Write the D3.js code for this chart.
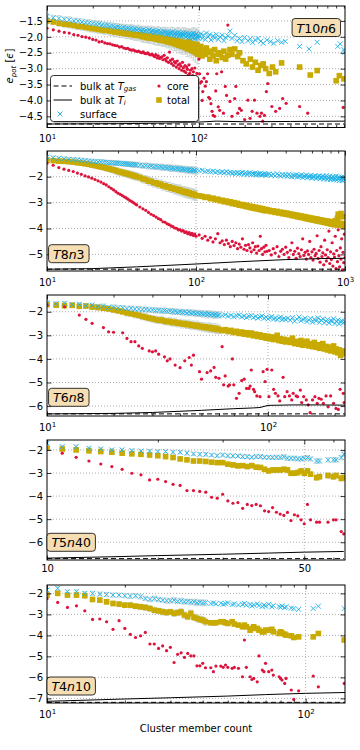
<!DOCTYPE html>
<html><head><meta charset="utf-8">
<script src="https://cdn.jsdelivr.net/npm/d3@7"></script>
<style>body{margin:0;background:#fff}svg{display:block}text{font-family:"DejaVu Sans",sans-serif}</style>
</head><body><svg id="c" width="360" height="750"></svg>
<script>
// ---------------- DATA ----------------
// Panel T10n6
const T10n6_sizes = d3.range(10, 100);
const T10n6_surface = [-1.36,-1.40,-1.42,-1.45,-1.46,-1.50,-1.50,-1.53,-1.55,-1.56,-1.58,-1.60,-1.59,-1.63,-1.64,-1.63,-1.67,-1.66,-1.69,-1.68,-1.70,-1.72,-1.70,-1.74,-1.73,-1.75,-1.72,-1.77,-1.76,-1.78,-1.75,-1.79,-1.80,-1.77,-1.82,-1.80,-1.83,-1.78,-1.84,-1.82,-1.80,-1.86,-1.83,-1.85,-1.81,-1.88,-1.84,-1.87,-1.90,-1.83,-1.86,-1.92,-1.85,-1.89,-1.94,-1.87,-1.91,-1.84,-1.95,-1.90,-1.88,-1.96,-1.90,-1.86,-1.97,-1.92,-1.89,-1.99,-1.93,-1.87,-1.95,-1.91,-2.00,-1.88,-1.97,-1.93,-2.02,-1.90,-1.96,-1.99,-1.92,-2.03,-1.89,-1.98,-2.05,-1.94,-1.90,-2.01,-1.96,-2.04];
const T10n6_total = [-1.50,-1.53,-1.57,-1.60,-1.62,-1.64,-1.67,-1.68,-1.70,-1.72,-1.74,-1.75,-1.77,-1.78,-1.80,-1.79,-1.82,-1.83,-1.85,-1.84,-1.87,-1.88,-1.86,-1.90,-1.91,-1.89,-1.93,-1.92,-1.95,-1.94,-1.96,-1.93,-1.98,-2.00,-1.96,-2.02,-1.99,-2.04,-2.01,-1.97,-2.03,-2.06,-2.00,-2.08,-2.04,-2.10,-2.02,-2.07,-2.12,-2.05,-2.09,-2.14,-2.06,-2.16,-2.11,-2.08,-2.19,-2.13,-2.10,-2.21,-2.15,-2.24,-2.12,-2.18,-2.27,-2.14,-2.22,-2.30,-2.17,-2.25,-2.20,-2.33,-2.19,-2.28,-2.38,-2.23,-2.15,-2.35,-2.26,-2.42,-2.30,-2.22,-2.45,-2.33,-2.27,-2.50,-2.36,-2.24,-2.55,-2.32];
const T10n6_core = [-1.73,-1.78,-1.82,-1.86,-1.88,-1.93,-1.95,-1.99,-2.01,-2.04,-2.08,-2.10,-2.16,-2.15,-2.19,-2.21,-2.22,-2.25,-2.27,-2.28,-2.32,-2.31,-2.35,-2.37,-2.36,-2.40,-2.42,-2.41,-2.44,-2.46,-2.45,-2.48,-2.50,-2.47,-2.52,-2.53,-2.50,-2.55,-2.57,-2.54,-2.58,-2.62,-2.56,-2.66,-2.60,-2.68,-2.65,-2.63,-2.72,-2.58,-2.70,-2.76,-2.66,-2.80,-2.48,-2.74,-2.84,-2.70,-2.90,-2.78,-2.82,-2.95,-2.76,-2.88,-3.00,-2.85,-2.92,-3.05,-2.80,-2.97,-3.08,-2.90,-3.12,-2.95,-3.02,-3.20,-2.88,-3.15,-3.05,-3.30,-3.00,-3.22,-3.10,-3.38,-2.98,-3.25,-3.45,-3.15,-3.35,-3.60];
const T10n6_surfErr = [.08,.08,.09,.08,.09,.09,.08,.09,.09,.10,.09,.10,.09,.10,.10,.09,.10,.10,.11,.10,.10,.11,.10,.11,.11,.10,.11,.12,.11,.11,.12,.11,.12,.11,.12,.12,.13,.12,.12,.13,.12,.13,.12,.13,.13,.12,.13,.14,.13,.13,.14,.13,.14,.13,.14,.15,.13,.14,.15,.14,.15,.14,.15,.16,.14,.15,.16,.15,.14,.16,.15,.16,.17,.15,.16,.17,.16,.15,.17,.16,.17,.16,.18,.17,.16,.18,.17,.16,.18,.17];
const T10n6_totErr = [.09,.09,.10,.10,.10,.11,.10,.11,.11,.12,.11,.12,.12,.12,.13,.12,.13,.13,.14,.13,.14,.14,.13,.15,.14,.15,.15,.14,.16,.15,.16,.15,.16,.17,.16,.16,.17,.16,.18,.17,.17,.18,.17,.18,.19,.17,.18,.19,.18,.20,.19,.18,.20,.19,.21,.19,.20,.21,.20,.22,.21,.20,.22,.21,.23,.21,.22,.24,.22,.23,.24,.22,.25,.23,.24,.26,.23,.25,.27,.24,.26,.25,.28,.26,.25,.29,.27,.26,.30,.28];
const T10n6_surfaceExtra = [[101,-1.98],[103,-1.90],[105,-2.05],[107,-1.95],[110,-2.08],[112,-1.88],[115,-2.00],[118,-1.93],[120,-2.10],[124,-1.97],[127,-2.04],[130,-1.92],[134,-2.08],[138,-2.00],[142,-1.95],[146,-2.12],[150,-2.02],[155,-1.97],[160,-1.82],[165,-2.05],[172,-1.95],[178,-2.12],[185,-2.05],[192,-2.15],[200,-2.02],[210,-2.12],[218,-2.06],[226,-2.18],[235,-2.10],[245,-2.05],[255,-2.14],[265,-2.20],[280,-2.10],[295,-2.15],[310,-2.20],[330,-2.12],[350,-2.17],[370,-2.14],[460,-2.30],[530,-2.38],[600,-2.17],[820,-2.30],[850,-2.22],[900,-2.40],[910,-2.48]];
const T10n6_totalExtra = [[101,-2.45],[103,-2.30],[105,-2.60],[107,-2.40],[110,-2.55],[112,-2.35],[115,-2.50],[118,-2.70],[120,-2.45],[124,-2.60],[127,-2.40],[130,-2.75],[134,-2.55],[138,-2.50],[142,-2.65],[146,-2.45],[150,-2.70],[155,-2.58],[160,-2.40],[165,-2.55],[172,-2.38],[180,-2.62],[185,-2.50],[195,-2.75],[205,-2.85],[218,-2.70],[225,-2.95],[235,-2.80],[245,-3.05],[255,-2.90],[265,-2.85],[275,-3.00],[290,-3.15],[305,-2.95],[320,-3.10],[350,-2.82],[460,-2.95],[540,-3.20],[600,-3.06],[800,-3.38],[840,-3.22],[900,-3.32]];
const T10n6_coreExtra = [[100,-2.70],[101,-3.16],[102,-3.45],[104,-3.41],[105,-4.00],[106,-3.72],[108,-3.30],[110,-3.55],[112,-3.41],[114,-3.16],[116,-3.90],[118,-3.94],[120,-4.10],[122,-4.34],[124,-4.47],[127,-4.50],[129,-3.70],[131,-3.16],[134,-4.20],[137,-4.31],[141,-3.10],[145,-4.40],[149,-3.56],[152,-3.84],[155,-1.63],[160,-4.03],[165,-4.50],[172,-3.94],[175,-3.56],[180,-4.40],[185,-4.25],[190,-4.31],[200,-4.60],[210,-3.99],[217,-4.56],[224,-4.34],[232,-3.99],[241,-4.40],[252,-4.50],[258,-4.40],[263,-4.65],[270,-4.47],[278,-3.72],[284,-3.47],[302,-4.19],[320,-4.34],[340,-4.25],[356,-3.94],[375,-4.09],[460,-4.19],[520,-4.40],[890,-4.22]];
const T10n6_bulkGas = [[10,-4.74],[915,-4.74]];
const T10n6_bulkIce = [[10,-4.74],[30,-4.73],[60,-4.71],[100,-4.68],[130,-4.65],[200,-4.67],[400,-4.66],[915,-4.65]];
const T10n6_xTicks = [10, 100];
const T10n6_yTicks = [-1.5, -2.0, -2.5, -3.0, -3.5, -4.0, -4.5];

// Panel T8n3
const T8n3_sizes = [].concat(d3.range(10, 41), d3.range(42, 101, 2), d3.range(105, 301, 5), d3.range(310, 1001, 10));
const T8n3_surface = [-1.25,-1.27,-1.29,-1.31,-1.33,-1.34,-1.35,-1.37,-1.38,-1.40,-1.41,-1.42,-1.43,-1.43,-1.44,-1.45,-1.46,-1.46,-1.47,-1.48,-1.48,-1.49,-1.50,-1.50,-1.51,-1.52,-1.52,-1.53,-1.53,-1.54,-1.55,
 -1.56,-1.58,-1.57,-1.60,-1.59,-1.62,-1.61,-1.63,-1.62,-1.65,-1.64,-1.66,-1.65,-1.68,-1.67,-1.69,-1.68,-1.71,-1.69,-1.72,-1.71,-1.73,-1.72,-1.75,-1.73,-1.76,-1.74,-1.77,-1.75,-1.78,
 -1.77,-1.75,-1.80,-1.78,-1.81,-1.79,-1.83,-1.80,-1.84,-1.82,-1.85,-1.81,-1.86,-1.83,-1.87,-1.84,-1.88,-1.85,-1.89,-1.86,-1.84,-1.90,-1.86,-1.91,-1.87,-1.85,-1.92,-1.88,-1.90,-1.86,-1.93,-1.89,-1.91,-1.87,-1.94,-1.90,-1.92,-1.88,-1.95,-1.91,
 -1.90,-1.95,-1.91,-1.97,-1.89,-1.94,-1.98,-1.92,-1.96,-1.93,-1.99,-1.91,-1.97,-2.00,-1.94,-1.98,-1.92,-2.01,-1.96,-1.99,-1.93,-2.03,-1.97,-2.00,-1.94,-2.04,-1.98,-2.01,-1.95,-2.05,-1.99,-2.02,-1.96,-2.07,-2.00,-2.03,-1.97,-2.08,-2.01,-2.04,-1.98,-2.09,-2.02,-2.05,-1.96,-2.10,-2.03,-2.06,-1.99,-2.11,-2.04,-2.07,-2.00,-2.12,-2.05,-2.08,-1.98,-2.13,-2.06,-2.09,-2.01,-2.14,-2.05,-2.10,-2.02,-2.15,-2.07,-2.11,-2.03,-2.12];
const T8n3_total = [-1.36,-1.38,-1.40,-1.41,-1.42,-1.44,-1.46,-1.48,-1.50,-1.52,-1.55,-1.57,-1.60,-1.62,-1.64,-1.67,-1.69,-1.72,-1.74,-1.77,-1.80,-1.82,-1.84,-1.86,-1.88,-1.90,-1.92,-1.94,-1.96,-1.98,-2.00,
 -2.03,-2.09,-2.11,-2.17,-2.18,-2.24,-2.24,-2.30,-2.29,-2.35,-2.35,-2.40,-2.39,-2.45,-2.44,-2.49,-2.48,-2.53,-2.50,-2.57,-2.56,-2.61,-2.58,-2.64,-2.62,-2.67,-2.65,-2.70,-2.68,-2.73,
 -2.74,-2.76,-2.80,-2.79,-2.85,-2.83,-2.89,-2.87,-2.93,-2.91,-2.97,-2.94,-3.00,-2.97,-3.04,-3.00,-3.06,-3.03,-3.10,-3.07,-3.12,-3.09,-3.15,-3.11,-3.17,-3.14,-3.20,-3.16,-3.22,-3.18,-3.24,-3.20,-3.26,-3.22,-3.28,-3.24,-3.30,-3.26,-3.32,-3.28,
 -3.30,-3.35,-3.32,-3.38,-3.34,-3.40,-3.37,-3.43,-3.39,-3.45,-3.41,-3.47,-3.44,-3.50,-3.46,-3.52,-3.48,-3.55,-3.50,-3.57,-3.52,-3.58,-3.54,-3.61,-3.56,-3.63,-3.58,-3.65,-3.60,-3.66,-3.61,-3.68,-3.63,-3.70,-3.64,-3.71,-3.66,-3.73,-3.67,-3.74,-3.69,-3.76,-3.70,-3.77,-3.71,-3.79,-3.72,-3.80,-3.74,-3.82,-3.75,-3.83,-3.76,-3.85,-3.78,-3.70,-3.86,-3.79,-3.60,-3.45,-3.87,-3.52,-3.80,-3.42,-3.88,-3.55,-3.82,-3.90,-3.84,-3.91];
const T8n3_core = [-1.48,-1.56,-1.65,-1.71,-1.76,-1.80,-1.86,-1.91,-1.97,-2.01,-2.06,-2.11,-2.16,-2.21,-2.27,-2.32,-2.39,-2.45,-2.51,-2.58,-2.64,-2.68,-2.73,-2.78,-2.82,-2.87,-2.92,-2.96,-3.00,-3.05,-3.09,
 -3.17,-3.24,-3.30,-3.38,-3.45,-3.50,-3.56,-3.62,-3.66,-3.74,-3.76,-3.82,-3.85,-3.90,-3.93,-3.98,-3.99,-4.05,-4.04,-4.10,-4.08,-4.15,-4.13,-4.20,-4.16,-4.24,-4.19,-4.27,-4.22,-4.30,
 -4.25,-4.38,-4.30,-4.45,-4.35,-4.52,-4.40,-4.20,-4.55,-4.48,-4.62,-4.45,-4.58,-4.70,-4.50,-4.66,-4.55,-4.78,-4.60,-4.72,-4.40,-4.80,-4.65,-4.85,-4.62,-4.75,-4.90,-4.55,-4.82,-4.70,-4.95,-4.68,-4.85,-4.30,-4.78,-5.00,-4.72,-4.90,-4.65,-4.88,
 -4.85,-5.02,-4.78,-4.95,-4.70,-5.08,-4.88,-4.80,-5.00,-4.72,-4.92,-5.12,-4.84,-4.55,-5.00,-4.88,-5.15,-4.76,-4.97,-5.08,-4.82,-4.40,-5.04,-4.92,-5.18,-4.86,-5.00,-4.50,-5.12,-4.90,-5.22,-4.80,-5.05,-4.96,-4.28,-5.15,-4.85,-5.30,-4.70,-5.08,-4.94,-5.40,-4.45,-5.02,-5.25,-4.82,-5.12,-4.10,-5.35,-4.90,-5.20,-4.55,-5.45,-4.98,-5.10,-4.30,-5.55,-4.85,-5.28,-4.05,-5.05,-5.48,-4.75,-5.18,-4.40,-5.60,-4.92,-5.32,-4.22,-5.12];
const T8n3_surfErr = [.07,.07,.06,.07,.08,.07,.07,.08,.07,.08,.08,.07,.08,.08,.09,.08,.08,.09,.08,.09,.09,.08,.09,.09,.10,.09,.09,.10,.09,.10,.10,.09,.10,.10,.11,.10,.10,.11,.10,.11,.11,.10,.11,.11,.12,.11,.11,.12,.11,.12,.12,.11,.12,.12,.13,.12,.12,.13,.12,.13,.13];
const T8n3_totErr = [.08,.08,.09,.08,.09,.09,.10,.09,.10,.10,.10,.11,.10,.11,.11,.12,.11,.12,.12,.12,.13,.12,.13,.13,.13,.14,.13,.14,.14,.14,.15,.14,.15,.15,.16,.15,.16,.16,.15,.16,.17,.16,.17,.17,.16,.17,.18,.17,.18,.18,.17,.18,.19,.18,.19,.19,.18,.19,.20,.19,.19];
const T8n3_bulkGas = [[10,-5.57],[1000,-5.57]];
const T8n3_bulkIce = [[10,-5.57],[20,-5.55],[40,-5.48],[100,-5.37],[200,-5.28],[400,-5.20],[700,-5.16],[1000,-5.15]];
const T8n3_xTicks = [10, 100, 1000];
const T8n3_yTicks = [-2, -3, -4, -5];

// Panel T6n8
const T6n8_sizes = [].concat(d3.range(10, 61), d3.range(62, 121, 2), d3.range(123, 223, 3));
const T6n8_surface = [-1.62,-1.66,-1.64,-1.70,-1.69,-1.74,-1.72,-1.78,-1.76,-1.82,-1.80,-1.84,-1.83,-1.87,-1.85,-1.89,-1.88,-1.91,-1.90,-1.93,-1.92,-1.95,-1.93,-1.97,-1.95,-1.98,-1.96,-2.00,-1.98,-2.02,-2.00,-2.03,-2.01,-2.05,-2.02,-2.06,-2.04,-2.08,-2.05,-2.09,-2.07,-2.10,-2.08,-2.12,-2.09,-2.13,-2.10,-2.14,-2.12,-2.15,-2.13,
 -2.16,-2.13,-2.19,-2.15,-2.21,-2.17,-2.14,-2.22,-2.18,-2.24,-2.19,-2.16,-2.25,-2.20,-2.27,-2.22,-2.18,-2.28,-2.23,-2.30,-2.25,-2.20,-2.31,-2.26,-2.33,-2.27,-2.22,-2.34,-2.28,-2.32,
 -2.28,-2.36,-2.25,-2.40,-2.31,-2.22,-2.38,-2.33,-2.27,-2.42,-2.35,-2.29,-2.44,-2.32,-2.38,-2.26,-2.45,-2.36,-2.30,-2.47,-2.39,-2.33,-2.48,-2.37,-2.41,-2.30,-2.50,-2.40,-2.35,-2.52,-2.43,-2.38,-2.47,-2.42];
const T6n8_total = [-1.70,-1.72,-1.74,-1.73,-1.77,-1.76,-1.80,-1.82,-1.85,-1.88,-1.92,-1.96,-2.00,-2.05,-2.08,-2.12,-2.15,-2.20,-2.23,-2.27,-2.30,-2.33,-2.36,-2.35,-2.40,-2.42,-2.41,-2.46,-2.44,-2.49,-2.48,-2.52,-2.50,-2.55,-2.53,-2.58,-2.56,-2.61,-2.58,-2.63,-2.62,-2.66,-2.64,-2.69,-2.66,-2.71,-2.68,-2.74,-2.70,-2.76,-2.74,
 -2.80,-2.76,-2.84,-2.79,-2.88,-2.83,-2.92,-2.86,-2.95,-2.89,-2.98,-2.90,-3.02,-2.95,-3.05,-2.98,-3.08,-3.02,-3.12,-3.04,-3.15,-3.07,-3.18,-3.10,-3.00,-3.22,-3.14,-3.25,-3.17,-3.28,
 -3.20,-3.30,-3.12,-3.35,-3.26,-3.38,-3.22,-3.42,-3.32,-3.25,-3.45,-3.36,-3.48,-3.30,-3.50,-3.40,-3.55,-3.44,-3.35,-3.58,-3.47,-3.62,-3.50,-3.66,-3.54,-3.45,-3.70,-3.58,-3.74,-3.62,-3.85,-3.66,-3.78,-3.72];
const T6n8_surfErr = [.07,.08,.07,.08,.08,.09,.08,.09,.09,.08,.09,.10,.09,.10,.09,.10,.10,.11,.10,.09,.10,.11,.10,.11,.12,.10,.11,.12,.11,.10,.11,.12,.11,.13,.12,.11,.12,.13,.12,.11,.12,.13,.12,.14,.13,.12,.13,.14,.13,.12,.13];
const T6n8_totErr = [.08,.09,.08,.09,.10,.09,.10,.11,.10,.11,.12,.11,.12,.13,.12,.14,.13,.14,.15,.13,.14,.15,.14,.16,.15,.14,.16,.15,.17,.15,.16,.17,.15,.16,.18,.16,.17,.15,.18,.16,.17,.18,.16,.17,.19,.17,.18,.16,.19,.17,.18];
const T6n8_core = [[10,-1.72],[12,-1.79],[14,-2.14],[15,-2.32],[16,-2.49],[18,-2.67],[19,-2.85],[20,-2.87],[22,-2.89],[23,-3.13],[24,-3.27],[25,-3.27],[26,-3.45],[27,-3.55],[29,-3.66],[30,-3.70],[31,-3.66],[32,-3.80],[34,-3.91],[35,-4.08],[36,-4.00],[38,-4.26],[40,-4.37],[42,-4.08],[44,-3.94],[45,-4.26],[46,-3.84],[49,-4.54],[50,-4.86],[53,-4.58],[55,-4.51],[57,-4.36],[58,-4.78],[60,-4.82],[62,-3.48],[63,-5.10],[64,-4.72],[66,-5.15],[67,-5.10],[69,-4.00],[70,-5.10],[72,-5.67],[74,-5.46],[76,-4.92],[78,-4.86],[80,-5.25],[82,-5.25],[83,-5.15],[84,-4.47],[86,-5.29],[87,-5.39],[89,-5.57],[92,-5.60],[95,-4.54],[97,-4.96],[99,-4.44],[101,-5.60],[104,-4.47],[106,-5.29],[108,-5.46],[111,-5.57],[113,-5.78],[117,-4.78],[119,-5.60],[122,-5.39],[125,-5.57],[128,-5.74],[130,-5.46],[134,-5.57],[136,-5.60],[140,-5.32],[142,-5.85],[145,-5.60],[149,-5.74],[152,-5.95],[155,-6.28],[159,-5.74],[163,-5.60],[167,-5.88],[170,-5.67],[174,-5.71],[178,-5.88],[183,-5.57],[187,-6.03],[192,-5.57],[198,-5.88],[203,-6.10],[208,-6.14],[212,-5.29],[219,-5.46],[221,-5.85]];
const T6n8_bulkGas = [[10,-6.33],[223,-6.33]];
const T6n8_bulkIce = [[10,-6.33],[20,-6.31],[30,-6.27],[50,-6.18],[70,-6.11],[85,-6.08],[92,-6.06],[100,-5.97],[130,-5.95],[170,-5.95],[223,-5.96]];
const T6n8_xTicks = [10, 100];
const T6n8_yTicks = [-2, -3, -4, -5, -6];

// Panel T5n40
const T5n40_sizes = d3.range(10, 53).concat([54, 55, 58, 60, 61, 63, 64]);
const T5n40_surface = [-1.71,-1.86,-1.86,-1.93,-1.96,-2.00,-2.00,-2.03,-2.05,-2.05,-2.07,-2.07,-2.10,-2.10,-2.14,-2.17,-2.19,-2.19,-2.22,-2.25,-2.22,-2.25,-2.26,-2.26,-2.29,-2.29,-2.32,-2.29,-2.29,-2.32,-2.32,-2.33,-2.32,-2.33,-2.29,-2.36,-2.36,-2.36,-2.39,-2.39,-2.36,-2.33,-2.39,-2.48,-2.48,-2.43,-2.43,-2.43,-2.33,-2.19];
const T5n40_total = [-1.93,-1.96,-2.00,-2.04,-2.07,-2.10,-2.14,-2.17,-2.19,-2.22,-2.25,-2.29,-2.33,-2.39,-2.43,-2.48,-2.48,-2.50,-2.53,-2.55,-2.55,-2.62,-2.65,-2.69,-2.68,-2.72,-2.68,-2.75,-2.76,-2.84,-2.91,-2.87,-2.87,-2.87,-2.84,-2.87,-3.01,-3.01,-2.98,-2.91,-3.01,-2.91,-3.05,-3.20,-3.16,-3.11,-3.16,-3.11,-3.23,-3.20];
const T5n40_core = [null,-2.14,-2.32,-2.48,-2.61,-2.72,-2.84,-3.01,-3.08,-3.30,-3.27,-3.37,-3.49,-3.54,-3.76,-3.76,-3.80,-3.83,-4.05,-4.09,-3.92,-4.21,-4.31,-4.28,-4.53,-4.36,-4.41,-4.36,-4.42,-4.64,-4.67,-4.50,-4.70,-4.78,-4.84,-4.71,-5.06,-4.81,-4.86,-5.03,-5.20,-4.36,-5.03,-5.13,-5.13,-5.13,-5.03,-5.03,-5.54,-5.64];
const T5n40_surfErr = [.06,.06,.07,.06,.07,.06,.07,.07,.06,.07,.07,.06,.07,.07,.08,.07,.07,.08,.07,.07,.08,.07,.08,.07,.08,.08,.07,.08,.08,.07,.08,.08,.09,.08,.08,.09,.08,.09,.08,.09,.09,.08,.09,.10,.09,.09,.10,.09,.10,.10];
const T5n40_totErr = [.06,.07,.06,.07,.07,.06,.07,.07,.08,.07,.08,.07,.08,.08,.07,.08,.08,.09,.08,.08,.09,.08,.09,.09,.08,.09,.10,.09,.09,.10,.09,.10,.10,.09,.10,.11,.10,.10,.11,.10,.11,.11,.10,.12,.11,.11,.12,.11,.12,.12];
const T5n40_bulkGas = [[10,-6.71],[64,-6.71]];
const T5n40_bulkIce = [[10,-6.69],[15,-6.63],[20,-6.58],[30,-6.52],[40,-6.47],[50,-6.43],[64,-6.40]];
const T5n40_xTicks = [10, 50];
const T5n40_yTicks = [-2, -3, -4, -5, -6];

// Panel T4n10
const T4n10_sizes = d3.range(10, 42).concat([43,44,45,47,48,49,50,52,53,55,57,58,59,61,62,63,65,66,68,69,70,72,74,75,79,80,81,83,84,88,90,94,107,112,141]);
const T4n10_surface = [-1.84,-1.76,-1.92,-1.92,-2.00,-2.00,-2.03,-2.05,-2.08,-2.08,-2.11,-2.13,-2.11,-2.16,-2.24,-2.29,-2.24,-2.29,-2.32,-2.35,-2.35,-2.32,-2.38,-2.35,-2.40,-2.38,-2.42,-2.40,-2.45,-2.42,-2.46,-2.44,-2.48,-2.45,-2.50,-2.47,-2.52,-2.49,-2.45,-2.53,-2.50,-2.55,-2.52,-2.48,-2.56,-2.53,-2.60,-2.55,-2.50,-2.58,-2.62,-2.55,-2.60,-2.52,-2.64,-2.58,-2.62,-2.66,-2.60,-2.68,-2.63,-2.70,-2.72,-2.76,-2.72,-2.61,-2.72];
const T4n10_total = [-2.08,-2.00,-2.08,-2.08,-2.11,-2.29,-2.32,-2.40,-2.48,-2.51,-2.56,-2.56,-2.61,-2.64,-2.67,-2.72,-2.80,-2.83,-2.88,-2.91,-2.88,-2.95,-2.92,-2.88,-3.03,-3.11,-2.95,-3.14,-3.19,-3.24,-3.27,-3.35,-3.40,-3.40,-3.40,-3.35,-3.35,-3.40,-3.43,-3.35,-3.46,-3.51,-3.59,-3.51,-3.59,-3.75,-3.67,-3.59,-3.67,-3.75,-3.83,-3.83,-3.75,-3.75,-3.71,-3.83,-3.91,-3.83,-3.88,-3.94,-3.99,-4.02,-4.10,-4.07,-4.07,-3.91,-4.22];
const T4n10_core = [-2.25,-2.43,-2.67,-2.59,-2.83,-3.24,-3.22,-3.35,-3.71,-3.30,-3.67,-3.95,-4.10,-4.02,-3.86,-4.41,-4.41,-4.62,-4.50,-4.73,-4.57,-5.29,-4.90,-4.83,-5.05,-4.86,-4.98,-4.98,-5.45,-5.45,-5.33,-5.54,-5.54,-5.73,-5.46,-5.46,-5.52,-5.41,-5.52,-5.57,-5.52,-5.57,-5.97,-4.22,-5.52,-5.97,-6.10,-6.05,-6.21,-4.98,-5.65,-5.73,-5.33,-5.73,-5.65,-5.89,-5.97,-6.05,-6.13,-6.29,-6.05,-6.60,-7.05,-6.64,-5.94,-6.45,-6.29];
const T4n10_surfErr = [.08,.09,.08,.09,.09,.10,.09,.10,.10,.09,.10,.11,.10,.11,.10,.11,.12,.11,.10,.12,.11,.12,.11,.13,.12,.11,.13,.12,.13,.12,.14,.13];
const T4n10_totErr = [.09,.10,.09,.10,.11,.10,.11,.12,.11,.12,.12,.13,.12,.13,.14,.13,.14,.13,.15,.14,.13,.15,.14,.16,.15,.14,.16,.15,.17,.15,.16,.17];
const T4n10_bulkGas = [[10,-7.19],[142,-7.19]];
const T4n10_bulkIce = [[10,-7.14],[20,-7.03],[30,-6.97],[50,-6.89],[70,-6.82],[100,-6.76],[142,-6.72]];
const T4n10_xTicks = [10, 100];
const T4n10_yTicks = [-2, -3, -4, -5, -6, -7];

// ---------------- DRAWING ----------------
const COL = {surface:'#1fb2e8', core:'#dc143c', total:'#c8aa00', err:'#c2cfcf', grid:'#9a9a9a'};
const svg = d3.select('#c');
const defs = svg.append('defs');
const L = 47, R = 345;

function pairs(sizes, vals) { return sizes.map((n, i) => [n, vals[i]]).filter(d => d[1] != null); }
function errs(sizes, vals, e) { return e.map((v, i) => [sizes[i], vals[i], v]); }

const panels = [
  {name:['T','10','n','6'], top:6, bottom:127.5, xDom:[10,915], yDom:[-4.85,-1.03], xTicks:T10n6_xTicks, yTicks:T10n6_yTicks, dec:1, pow:true,
   surface: pairs(T10n6_sizes,T10n6_surface).concat(T10n6_surfaceExtra), total: pairs(T10n6_sizes,T10n6_total).concat(T10n6_totalExtra),
   core: pairs(T10n6_sizes,T10n6_core).concat(T10n6_coreExtra),
   err: errs(T10n6_sizes,T10n6_surface,T10n6_surfErr).concat(errs(T10n6_sizes,T10n6_total,T10n6_totErr)),
   gas:T10n6_bulkGas, ice:T10n6_bulkIce, lab:[316.3,27.5]},
  {name:['T','8','n','3'], top:151, bottom:271, xDom:[10,1000], yDom:[-5.64,-1.01], xTicks:T8n3_xTicks, yTicks:T8n3_yTicks, dec:0, pow:true,
   surface: pairs(T8n3_sizes,T8n3_surface), total: pairs(T8n3_sizes,T8n3_total), core: pairs(T8n3_sizes,T8n3_core),
   err: errs(T8n3_sizes,T8n3_surface,T8n3_surfErr).concat(errs(T8n3_sizes,T8n3_total,T8n3_totErr)),
   gas:T8n3_bulkGas, ice:T8n3_bulkIce, lab:[68.8,253.7]},
  {name:['T','6','n','8'], top:295, bottom:416, xDom:[10,223], yDom:[-6.42,-1.29], xTicks:T6n8_xTicks, yTicks:T6n8_yTicks, dec:0, pow:true,
   surface: pairs(T6n8_sizes,T6n8_surface), total: pairs(T6n8_sizes,T6n8_total), core: T6n8_core,
   err: errs(T6n8_sizes,T6n8_surface,T6n8_surfErr).concat(errs(T6n8_sizes,T6n8_total,T6n8_totErr)),
   gas:T6n8_bulkGas, ice:T6n8_bulkIce, lab:[68.8,397.3]},
  {name:['T','5','n','40'], top:440, bottom:560, xDom:[10,64.5], yDom:[-6.77,-1.57], xTicks:T5n40_xTicks, yTicks:T5n40_yTicks, dec:0, pow:false,
   surface: pairs(T5n40_sizes,T5n40_surface), total: pairs(T5n40_sizes,T5n40_total), core: pairs(T5n40_sizes,T5n40_core),
   err: errs(T5n40_sizes,T5n40_surface,T5n40_surfErr).concat(errs(T5n40_sizes,T5n40_total,T5n40_totErr)),
   gas:T5n40_bulkGas, ice:T5n40_bulkIce, lab:[71.2,542.3]},
  {name:['T','4','n','10'], top:585, bottom:703, xDom:[10,142], yDom:[-7.22,-1.60], xTicks:T4n10_xTicks, yTicks:T4n10_yTicks, dec:0, pow:true,
   surface: pairs(T4n10_sizes,T4n10_surface), total: pairs(T4n10_sizes,T4n10_total), core: pairs(T4n10_sizes,T4n10_core),
   err: errs(T4n10_sizes,T4n10_surface,T4n10_surfErr).concat(errs(T4n10_sizes,T4n10_total,T4n10_totErr)),
   gas:T4n10_bulkGas, ice:T4n10_bulkIce, lab:[71.2,686]}
];

const crossPath = 'M-2.5,-2.5L2.5,2.5M-2.5,2.5L2.5,-2.5';
const SQ = 5.6;

function styleAxis(sel) {
  sel.select('.domain').remove();
  sel.selectAll('line').attr('stroke', '#000').attr('stroke-width', 0.8);
  sel.selectAll('text').attr('font-family', '"DejaVu Sans",sans-serif').attr('font-size', 10).attr('fill', '#000');
}

panels.forEach((p, pi) => {
  const x = d3.scaleLog().domain(p.xDom).range([L, R]);
  const y = d3.scaleLinear().domain(p.yDom).range([p.bottom, p.top]);
  const g = svg.append('g');
  defs.append('clipPath').attr('id', 'clip' + pi).append('rect')
    .attr('x', L).attr('y', p.top).attr('width', R - L).attr('height', p.bottom - p.top);

  // grid
  const gg = g.append('g').attr('stroke', COL.grid).attr('stroke-width', 0.8).attr('stroke-dasharray', '1,2');
  gg.selectAll('line.gx').data(p.xTicks.filter(d => x(d) > L + 1 && x(d) < R - 1)).join('line').attr('class', 'gx')
    .attr('x1', d => x(d)).attr('x2', d => x(d)).attr('y1', p.top).attr('y2', p.bottom);
  gg.selectAll('line.gy').data(p.yTicks).join('line').attr('class', 'gy')
    .attr('x1', L).attr('x2', R).attr('y1', d => y(d)).attr('y2', d => y(d));

  const dg = g.append('g').attr('clip-path', `url(#clip${pi})`);
  // error bars
  dg.append('g').selectAll('path').data(p.err).join('path')
    .attr('d', d => { const cx = x(d[0]), a = y(d[1] - d[2]), b = y(d[1] + d[2]);
      return `M${cx},${a}V${b}M${cx - 2},${a}h4M${cx - 2},${b}h4`; })
    .attr('stroke', COL.err).attr('stroke-width', 0.8).attr('fill', 'none');
  // total squares
  dg.append('g').selectAll('rect').data(p.total).join('rect')
    .attr('x', d => x(d[0]) - SQ / 2).attr('y', d => y(d[1]) - SQ / 2).attr('width', SQ).attr('height', SQ)
    .attr('fill', COL.total);
  // surface crosses
  dg.append('g').selectAll('path').data(p.surface).join('path')
    .attr('transform', d => `translate(${x(d[0])},${y(d[1])})`).attr('d', crossPath)
    .attr('stroke', COL.surface).attr('stroke-width', 0.9).attr('fill', 'none');
  // core dots
  dg.append('g').selectAll('circle').data(p.core).join('circle')
    .attr('cx', d => x(d[0])).attr('cy', d => y(d[1])).attr('r', 1.6).attr('fill', COL.core);
  // bulk lines
  const line = d3.line().x(d => x(d[0])).y(d => y(d[1]));
  dg.append('path').datum(p.ice).attr('d', line).attr('fill', 'none').attr('stroke', '#000').attr('stroke-width', 1);
  dg.append('path').datum(p.gas).attr('d', line).attr('fill', 'none').attr('stroke', '#000').attr('stroke-width', 1).attr('stroke-dasharray', '5,3');

  // axes
  const minors = x.ticks().filter(t => !p.xTicks.some(m => Math.abs(m - t) < 1e-6));
  const bx = g.append('g').attr('transform', `translate(0,${p.bottom})`)
    .call(d3.axisBottom(x).tickValues(p.xTicks).tickSizeInner(-4.5).tickSizeOuter(0).tickPadding(p.pow ? 7.5 : 4.5)
      .tickFormat(d => p.pow ? '' : String(d)));
  styleAxis(bx);
  if (p.pow) bx.selectAll('text').each(function (d) {
    const t = d3.select(this);
    t.append('tspan').text('10');
    t.append('tspan').attr('dy', '-0.45em').attr('font-size', 7).text(Math.round(Math.log10(d)));
  });
  styleAxis(g.append('g').attr('transform', `translate(0,${p.bottom})`)
    .call(d3.axisBottom(x).tickValues(minors).tickSizeInner(-2.5).tickSizeOuter(0).tickFormat('')));
  styleAxis(g.append('g').attr('transform', `translate(0,${p.top})`)
    .call(d3.axisTop(x).tickValues(p.xTicks).tickSizeInner(-4.5).tickSizeOuter(0).tickFormat('')));
  styleAxis(g.append('g').attr('transform', `translate(0,${p.top})`)
    .call(d3.axisTop(x).tickValues(minors).tickSizeInner(-2.5).tickSizeOuter(0).tickFormat('')));
  styleAxis(g.append('g').attr('transform', `translate(${L},0)`)
    .call(d3.axisLeft(y).tickValues(p.yTicks).tickSizeInner(-4.5).tickSizeOuter(0).tickPadding(4)
      .tickFormat(d => (p.dec ? d.toFixed(1) : String(d)).replace('-', '\u2212'))));
  styleAxis(g.append('g').attr('transform', `translate(${R},0)`)
    .call(d3.axisRight(y).tickValues(p.yTicks).tickSizeInner(-4.5).tickSizeOuter(0).tickFormat('')));

  g.append('rect').attr('x', L).attr('y', p.top).attr('width', R - L).attr('height', p.bottom - p.top)
    .attr('fill', 'none').attr('stroke', '#000').attr('stroke-width', 1);

  // panel label
  const lg = g.append('g');
  const lt = lg.append('text').attr('x', p.lab[0]).attr('y', p.lab[1]).attr('text-anchor', 'middle')
    .attr('dominant-baseline', 'central').attr('font-family', '"Liberation Serif",serif').attr('font-size', 12.5);
  p.name.forEach((s, i) => lt.append('tspan').attr('font-style', i % 2 === 0 ? 'italic' : 'normal').text(s));
  const w = lt.node().getComputedTextLength() + 9;
  lg.insert('rect', 'text').attr('x', p.lab[0] - w / 2).attr('y', p.lab[1] - 9).attr('width', w).attr('height', 18)
    .attr('rx', 3).attr('fill', '#f5deb3').attr('stroke', '#000').attr('stroke-width', 0.8);
});

// legend (panel 1)
const leg = svg.append('g');
leg.append('rect').attr('x', 52).attr('y', 77).attr('width', 148).attr('height', 46).attr('rx', 3).attr('fill', '#888').attr('opacity', 0.5);
leg.append('rect').attr('x', 50.5).attr('y', 75.5).attr('width', 148).attr('height', 46).attr('rx', 3).attr('fill', '#fff').attr('stroke', '#000').attr('stroke-width', 0.8);
const legRows = [
  {y: 86, kind: 'gas', txt: ['bulk at ', 'T', 'gas']},
  {y: 100, kind: 'ice', txt: ['bulk at ', 'T', 'i']},
  {y: 114, kind: 'surface', txt: ['surface']}
];
legRows.forEach(r => {
  if (r.kind === 'gas') leg.append('line').attr('x1', 53.5).attr('x2', 72).attr('y1', r.y).attr('y2', r.y).attr('stroke', '#000').attr('stroke-dasharray', '5,3');
  if (r.kind === 'ice') leg.append('line').attr('x1', 53.5).attr('x2', 72).attr('y1', r.y).attr('y2', r.y).attr('stroke', '#000');
  if (r.kind === 'surface') leg.append('path').attr('transform', `translate(60,${r.y})`).attr('d', crossPath).attr('stroke', COL.surface).attr('fill', 'none').attr('stroke-width', 0.9);
  const t = leg.append('text').attr('x', 80).attr('y', r.y).attr('dominant-baseline', 'central').attr('font-size', 10);
  t.append('tspan').text(r.txt[0]);
  if (r.txt.length > 1) {
    t.append('tspan').attr('font-style', 'italic').text(r.txt[1]);
    t.append('tspan').attr('font-style', 'italic').attr('font-size', 7).attr('dy', 2.5).text(r.txt[2]);
  }
});
leg.append('circle').attr('cx', 159).attr('cy', 86).attr('r', 1.6).attr('fill', COL.core);
leg.append('rect').attr('x', 159 - SQ / 2).attr('y', 100 - SQ / 2).attr('width', SQ).attr('height', SQ).attr('fill', COL.total);
leg.append('text').attr('x', 167).attr('y', 86).attr('dominant-baseline', 'central').attr('font-size', 10).text('core');
leg.append('text').attr('x', 167).attr('y', 100).attr('dominant-baseline', 'central').attr('font-size', 10).text('total');

// y label (panel 1)
const yl = svg.append('text').attr('transform', 'translate(13,66) rotate(-90)').attr('text-anchor', 'middle').attr('font-size', 10);
yl.append('tspan').attr('font-style', 'italic').text('e');
yl.append('tspan').attr('font-style', 'italic').attr('font-size', 7).attr('dy', 2.5).text('pot');
yl.append('tspan').attr('dy', -2.5).text(' [');
yl.append('tspan').attr('font-style', 'italic').text('\u03f5');
yl.append('tspan').text(']');

// x label
svg.append('text').attr('x', 196).attr('y', 732).attr('text-anchor', 'middle').attr('font-size', 10).text('Cluster member count');
</script>
</body></html>
